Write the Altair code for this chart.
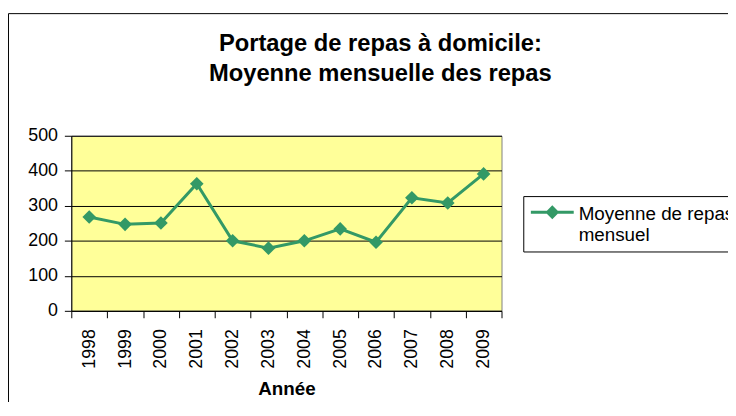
import altair as alt
import pandas as pd

annees = ["1998", "1999", "2000", "2001", "2002", "2003",
          "2004", "2005", "2006", "2007", "2008", "2009"]
valeurs = [268, 247, 251, 363, 200, 179, 200, 234, 196, 323, 308, 391]
serie = "Moyenne de repas mensuel"
titre = ["Portage de repas à domicile:", "Moyenne mensuelle des repas"]
y_ticks = [0, 100, 200, 300, 400, 500]

df = pd.DataFrame({"Année": annees, "valeur": valeurs, "serie": [serie] * len(annees)})

GREEN = "#339966"
FONT = "Liberation Sans"
# legend glyph: line with a diamond, shifted so it sits beside the first label line
LEG_PATH = "M-1,-0.2L3,-0.2M0.55,-0.2L1,-0.65L1.45,-0.2L1,0.25Z"

W, H = 435, 177
PAD_L, PAD_T = 64, 127
TOTAL_W, TOTAL_H = 728, 394

x_enc = alt.X(
    "Année:O",
    scale=alt.Scale(type="band", paddingInner=0, paddingOuter=0),
    axis=alt.Axis(title="Année", labelAngle=-90, tickBand="extent",
                  labelFontSize=18, labelPadding=11, tickSize=7,
                  titleFontSize=19, titleFontWeight="bold", titlePadding=12,
                  domainColor="black", tickColor="black", labelColor="black",
                  grid=False),
)
y_enc = alt.Y(
    "valeur:Q",
    scale=alt.Scale(domain=[0, 500], nice=False),
    axis=alt.Axis(title=None, values=y_ticks, labelFontSize=18, labelPadding=7,
                  tickSize=7, domainColor="black", tickColor="black",
                  labelColor="black", grid=True, gridColor="black", gridWidth=1),
)

border = alt.Chart(alt.Data(values=[{"a": 1}])).mark_rect(
    fill=None, stroke="black", strokeWidth=1, clip=False
).encode(
    x=alt.value(-PAD_L + 0.5),
    x2=alt.value(TOTAL_W - PAD_L + 20),
    y=alt.value(-PAD_T + 3.5),
    y2=alt.value(TOTAL_H - PAD_T + 20),
)

line = alt.Chart(df).mark_line(
    strokeWidth=3,
    point=alt.OverlayMarkDef(shape="diamond", size=190, filled=True, opacity=1),
).encode(
    x=x_enc,
    y=y_enc,
    color=alt.Color(
        "serie:N",
        scale=alt.Scale(domain=[serie], range=[GREEN]),
        legend=alt.Legend(
            title=None, orient="none", legendX=457, legendY=61,
            symbolType=LEG_PATH, symbolSize=470, symbolStrokeWidth=3,
            symbolFillColor=GREEN, symbolStrokeColor=GREEN,
            labelExpr="['Moyenne de repas', 'mensuel']",
            labelOffset=25,
            labelFontSize=19, labelColor="black", labelLimit=400,
            strokeColor="black", fillColor="white", padding=6,
        ),
    ),
)

chart = alt.layer(border, line).properties(
    width=W, height=H,
    title=alt.TitleParams(text=titre, fontSize=24, fontWeight="bold", font=FONT,
                          anchor="middle", dx=95, offset=-74, lineHeight=31,
                          color="black"),
    autosize=alt.AutoSizeParams(type="none"),
    padding={"left": PAD_L, "top": PAD_T,
             "right": TOTAL_W - PAD_L - W, "bottom": TOTAL_H - PAD_T - H},
).configure(
    font=FONT,
).configure_view(
    fill="#FFFF99", stroke="#808080", strokeWidth=1,
).configure_axis(
    labelFont=FONT, titleFont=FONT, titleColor="black",
).configure_legend(
    labelFont=FONT,
)

chart.save("out.html", embed_options={"renderer": "svg", "actions": False})
